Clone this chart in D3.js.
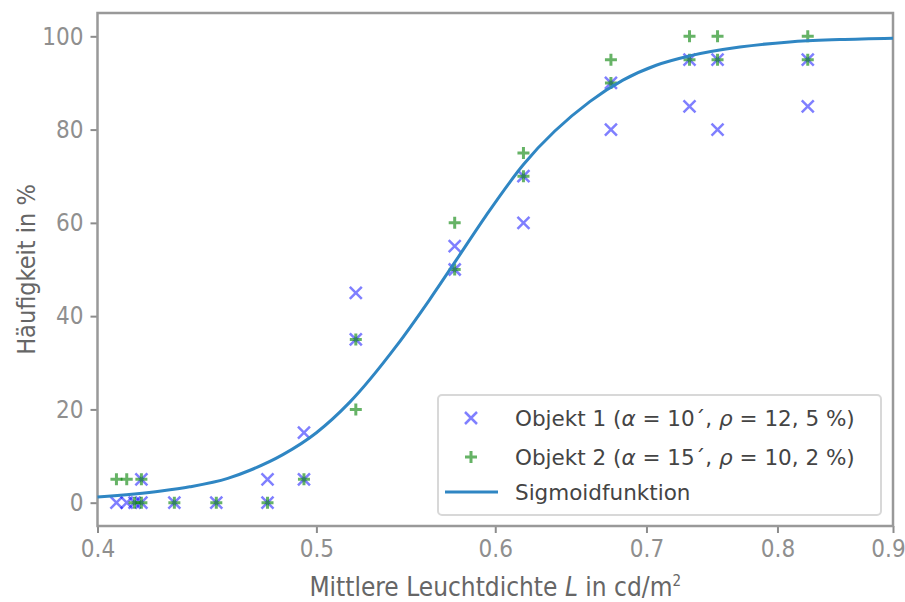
<!DOCTYPE html>
<html>
<head>
<meta charset="utf-8">
<script src="https://cdn.jsdelivr.net/npm/d3@7"></script>
<style>
	body { margin: 0; background: #fff; }
	svg { display: block; font-family: "DejaVu Sans", sans-serif; }
	.cond { font-family: "DejaVu Sans Condensed", "Liberation Sans Narrow", "DejaVu Sans", sans-serif; font-stretch: condensed; }
</style>
</head>
<body>
<div id="chart"></div>
<script>

// Object 1 (blue x)
const obj1L   = [0.4078, 0.4121, 0.4154, 0.4183, 0.4183, 0.4326, 0.4515, 0.4757, 0.4757, 0.4937, 0.4937,
                 0.5205, 0.5205, 0.5757, 0.5757, 0.6175, 0.6175, 0.6751, 0.6751, 0.7314, 0.7314,
                 0.7526, 0.7526, 0.8251, 0.8251];
const obj1Pct = [0, 0, 0, 0, 5, 0, 0, 0, 5, 5, 15,
                 35, 45, 50, 55, 60, 70, 80, 90, 85, 95,
                 80, 95, 85, 95];

// Object 2 (green +)
const obj2L   = [0.4078, 0.4121, 0.4154, 0.4183, 0.4183, 0.4326, 0.4515, 0.4757, 0.4937,
                 0.5205, 0.5205, 0.5757, 0.5757, 0.6175, 0.6175, 0.6751, 0.6751, 0.7314, 0.7314,
                 0.7526, 0.7526, 0.8251, 0.8251];
const obj2Pct = [5, 5, 0, 0, 5, 0, 0, 0, 5,
                 20, 35, 50, 60, 70, 75, 90, 95, 95, 100,
                 95, 100, 95, 100];

// Sigmoid curve
const sigL   = [0.400, 0.4268, 0.4394, 0.4568, 0.4670, 0.4832, 0.5000, 0.5172, 0.5423, 0.5611, 0.5766,
                0.5943, 0.6175, 0.6607, 0.6834, 0.7070, 0.7314, 0.7699, 0.8100, 0.8524, 0.900];
const sigPct = [1.2, 2.5, 3.4, 5.2, 6.9, 10.3, 15.0, 21.5, 33.5, 43.5, 52.0,
                61.5, 72.5, 86.0, 90.6, 93.8, 95.8, 97.7, 98.8, 99.3, 99.6];

const xTicks = [0.4, 0.5, 0.6, 0.7, 0.8, 0.9];
const yTicks = [0, 20, 40, 60, 80, 100];

const legendLabels = [
	["Objekt 1 (", "α", " = 10´, ", "ρ", " = 12, 5 %)"],
	["Objekt 2 (", "α", " = 15´, ", "ρ", " = 10, 2 %)"],
	["Sigmoidfunktion"]
];

class SigmoidChart {

	constructor(parentElement) {
		this._parentElement = parentElement;
	}

	initVis() {
		let vis = this;

		vis.margin = {top: 13, right: 12, bottom: 76, left: 97.5};
		vis.width = 905 - vis.margin.left - vis.margin.right;
		vis.height = 602 - vis.margin.top - vis.margin.bottom;

		vis.root = d3.select("#" + vis._parentElement).append("svg")
			.attr("width", 905)
			.attr("height", 602);

		vis.svg = vis.root.append("g")
			.attr("transform", "translate(" + vis.margin.left + "," + vis.margin.top + ")");

		// Scales
		vis.x = d3.scaleLog()
			.domain([0.4, 0.9])
			.range([0, vis.width]);

		vis.y = d3.scaleLinear()
			.domain([-5, 105])
			.range([vis.height, 0]);

		// Axes
		vis.xAxis = d3.axisBottom(vis.x)
			.tickValues(xTicks)
			.tickFormat(d3.format(".1f"))
			.tickSize(7)
			.tickPadding(7);

		vis.yAxis = d3.axisLeft(vis.y)
			.tickValues(yTicks)
			.tickSize(7)
			.tickPadding(7);

		let gx = vis.svg.append("g")
			.attr("class", "x-axis axis")
			.attr("transform", "translate(0," + vis.height + ")")
			.call(vis.xAxis);

		let gy = vis.svg.append("g")
			.attr("class", "y-axis axis")
			.call(vis.yAxis);

		[gx, gy].forEach(function(g) {
			g.select(".domain").remove();
			g.selectAll(".tick line").attr("stroke", "#8c8c8c").attr("stroke-width", 2);
			g.selectAll(".tick text")
				.attr("class", "cond")
				.attr("fill", "#8f8f8f")
				.style("font-size", "24px");
		});

		// keep the last x label inside the page
		gx.selectAll(".tick text").filter(function(d) { return d === 0.9; })
			.attr("dx", -5);

		// Frame
		vis.svg.append("rect")
			.attr("x", 0)
			.attr("y", 0)
			.attr("width", vis.width)
			.attr("height", vis.height)
			.attr("fill", "none")
			.attr("stroke", "#999")
			.attr("stroke-width", 2.5);

		// Axis titles
		let xTitle = vis.svg.append("text")
			.attr("class", "cond")
			.attr("x", vis.width / 2)
			.attr("y", vis.height + 70)
			.attr("text-anchor", "middle")
			.attr("fill", "#666")
			.style("font-size", "26px");
		xTitle.append("tspan").text("Mittlere Leuchtdichte ");
		xTitle.append("tspan").style("font-style", "italic").text("L");
		xTitle.append("tspan").text(" in cd/m");
		xTitle.append("tspan").attr("dy", -10).style("font-size", "15px").text("2");

		vis.svg.append("text")
			.attr("class", "cond")
			.attr("transform", "translate(" + (-63) + "," + (vis.height / 2) + ") rotate(-90)")
			.attr("text-anchor", "middle")
			.attr("fill", "#666")
			.style("font-size", "25px")
			.text("Häufigkeit in %");

		let s = 6;

		// Object 1: x markers
		vis.svg.append("g")
			.selectAll("path")
			.data(obj1L.map(function(d, i) { return {L: d, p: obj1Pct[i]}; }))
			.enter().append("path")
			.attr("d", function(d) {
				let cx = vis.x(d.L), cy = vis.y(d.p);
				return "M" + (cx - s) + "," + (cy - s) + "L" + (cx + s) + "," + (cy + s) +
					"M" + (cx - s) + "," + (cy + s) + "L" + (cx + s) + "," + (cy - s);
			})
			.attr("stroke", "#0000ff")
			.attr("stroke-opacity", 0.5)
			.attr("stroke-width", 2.5)
			.attr("fill", "none");

		// Object 2: + markers
		vis.svg.append("g")
			.selectAll("path")
			.data(obj2L.map(function(d, i) { return {L: d, p: obj2Pct[i]}; }))
			.enter().append("path")
			.attr("d", function(d) {
				let cx = vis.x(d.L), cy = vis.y(d.p);
				return "M" + (cx - s) + "," + cy + "L" + (cx + s) + "," + cy +
					"M" + cx + "," + (cy - s) + "L" + cx + "," + (cy + s);
			})
			.attr("stroke", "#008000")
			.attr("stroke-opacity", 0.6)
			.attr("stroke-width", 3)
			.attr("fill", "none");

		// Sigmoid line
		vis.line = d3.line()
			.x(function(d, i) { return vis.x(d); })
			.y(function(d, i) { return vis.y(sigPct[i]); })
			.curve(d3.curveMonotoneX);

		vis.svg.append("path")
			.datum(sigL)
			.attr("d", vis.line)
			.attr("fill", "none")
			.attr("stroke", "#2f86c3")
			.attr("stroke-width", 3);

		// Legend
		let lg = vis.root.append("g").attr("class", "legend");

		lg.append("rect")
			.attr("x", 438)
			.attr("y", 395)
			.attr("width", 443)
			.attr("height", 120)
			.attr("rx", 4)
			.attr("fill", "#fff")
			.attr("fill-opacity", 0.85)
			.attr("stroke", "#d8d8d8")
			.attr("stroke-width", 2);

		let rowY = [418, 457, 492];

		lg.append("path")
			.attr("d", "M" + (471 - s) + "," + (rowY[0] - s) + "L" + (471 + s) + "," + (rowY[0] + s) +
				"M" + (471 - s) + "," + (rowY[0] + s) + "L" + (471 + s) + "," + (rowY[0] - s))
			.attr("stroke", "#0000ff")
			.attr("stroke-opacity", 0.5)
			.attr("stroke-width", 2.5);

		lg.append("path")
			.attr("d", "M" + (471 - s) + "," + rowY[1] + "L" + (471 + s) + "," + rowY[1] +
				"M471," + (rowY[1] - s) + "L471," + (rowY[1] + s))
			.attr("stroke", "#008000")
			.attr("stroke-opacity", 0.6)
			.attr("stroke-width", 3);

		lg.append("line")
			.attr("x1", 445).attr("x2", 498)
			.attr("y1", rowY[2]).attr("y2", rowY[2])
			.attr("stroke", "#2f86c3")
			.attr("stroke-width", 3);

		legendLabels.forEach(function(parts, i) {
			let t = lg.append("text")
				.attr("x", 515)
				.attr("y", rowY[i])
				.attr("dy", "0.35em")
				.attr("fill", "#444")
				.style("font-size", "21.5px");
			parts.forEach(function(p) {
				let ts = t.append("tspan").text(p);
				if (p === "α" || p === "ρ") ts.style("font-style", "italic");
			});
		});
	}
}

let chart = new SigmoidChart("chart");
chart.initVis();

</script>
</body>
</html>
